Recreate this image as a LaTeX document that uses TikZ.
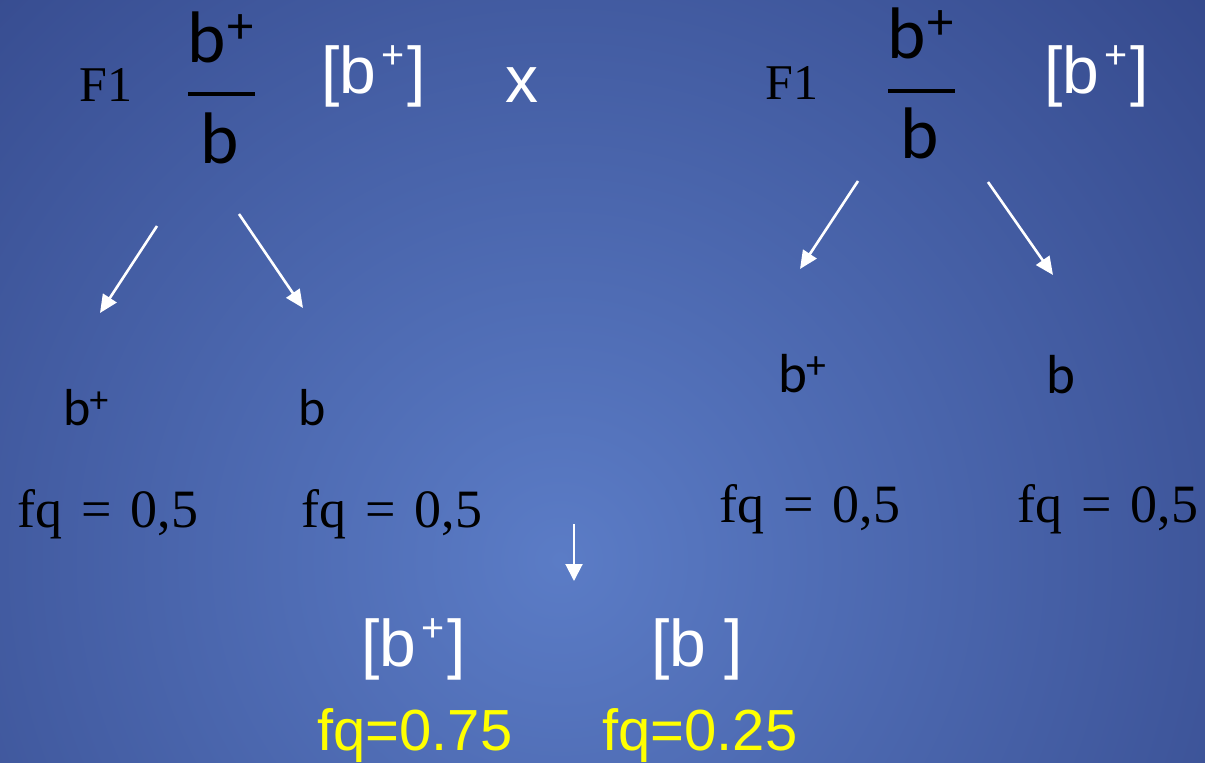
\documentclass[tikz,border=0pt]{standalone}
\usepackage{fontspec}
\setmainfont{Liberation Serif}
\newfontfamily\calib{Carlito}
\newfontfamily\arialf{Liberation Sans}
\newfontfamily\serf{Liberation Serif}
\usetikzlibrary{arrows.meta}
\definecolor{bgin}{HTML}{5B7CC6}
\definecolor{bgout}{HTML}{33478A}
\definecolor{fqyellow}{HTML}{FFFF00}
\newcommand\plusup[2]{\raisebox{#1}{\scalebox{#2}{+}}}
\newcommand\fqtext{fq\hspace{19pt}=\hspace{19pt}0,5}
\newcommand\wgeno{[b\hspace{5pt}\plusup{24.5pt}{0.6}\hspace{3pt}]}
\begin{document}
\begin{tikzpicture}[x=1pt,y=-1pt,
  lbl/.style={inner sep=0pt, anchor=base west},
  bignum/.style={lbl, font=\calib\fontsize{73}{80}\selectfont, text=black},
  gamete/.style={lbl, font=\calib\fontsize{52}{60}\selectfont, text=black},
  gameteR/.style={lbl, font=\calib\fontsize{55}{60}\selectfont, text=black},
  serlbl/.style={lbl, font=\serf\fontsize{54}{60}\selectfont, text=black},
  f1lbl/.style={lbl, font=\serf\fontsize{50}{60}\selectfont, text=black},
  whitelbl/.style={lbl, font=\arialf\fontsize{66}{72}\selectfont, text=white},
  yellowlbl/.style={lbl, font=\arialf\fontsize{58}{64}\selectfont, text=fqyellow},
  fracbar/.style={line width=4pt, black},
  arr/.style={white, line width=2.6pt, -{Triangle[length=18pt,width=16pt]}},
  arrv/.style={white, line width=2pt, -{Triangle[length=17pt,width=17pt]}}
]
\useasboundingbox (0,0) rectangle (1205,763);
\begin{scope}
  \clip (0,0) rectangle (1205,763);
  \fill[bgout] (0,0) rectangle (1205,763);
  \shade[inner color=bgin, outer color=bgout] (560,560) circle (900pt);
\end{scope}

% left parent
\node[f1lbl] (f1L) at (79,101) {F1};
\node[bignum] (numL) at (187,62) {b\hspace{2.4pt}\plusup{19pt}{0.72}};
\draw[fracbar] (188,94) -- (255,94);
\node[bignum] (denL) at (200,163) {b};
\node[whitelbl] (genL) at (321,93) {\wgeno};
\node[whitelbl] (cross) at (505,102) {x};

% right parent
\node[f1lbl] (f1R) at (765,99) {F1};
\node[bignum] (numR) at (887,58) {b\hspace{2.4pt}\plusup{19pt}{0.72}};
\draw[fracbar] (888,91) -- (955,91);
\node[bignum] (denR) at (900,158) {b};
\node[whitelbl] (genR) at (1044,93) {\wgeno};

% gametes left
\node[gamete] (gL1) at (63,425) {b\hspace{-1pt}\plusup{13pt}{0.72}};
\node[gamete] (gL2) at (298,425) {b};
\node[serlbl] (fqL1) at (17,527) {\fqtext};
\node[serlbl] (fqL2) at (301,527) {\fqtext};

% gametes right
\node[gameteR] (gR1) at (778,392) {b\hspace{-1pt}\plusup{14pt}{0.72}};
\node[gameteR] (gR2) at (1046,393) {b};
\node[serlbl] (fqR1) at (719,522) {\fqtext};
\node[serlbl] (fqR2) at (1017,522) {\fqtext};

% result
\node[whitelbl] (resA) at (361,666) {\wgeno};
\node[whitelbl] (resB) at (651,666) {[b ]};
\node[yellowlbl] (fqA) at (317,750) {fq=0.75};
\node[yellowlbl] (fqB) at (602,750) {fq=0.25};

% arrow end points
\coordinate (sL1) at (157,226);
\coordinate (eL1) at (100,313);
\coordinate (sL2) at (239,214);
\coordinate (eL2) at (303,308);
\coordinate (sR1) at (858,181);
\coordinate (eR1) at (800,269);
\coordinate (sR2) at (988,182);
\coordinate (eR2) at (1053,275);
\coordinate (sM) at (574,524);
\coordinate (eM) at (574,581);

\draw[arr] (sL1) -- (eL1);
\draw[arr] (sL2) -- (eL2);
\draw[arr] (sR1) -- (eR1);
\draw[arr] (sR2) -- (eR2);
\draw[arrv] (sM) -- (eM);
\end{tikzpicture}
\end{document}
